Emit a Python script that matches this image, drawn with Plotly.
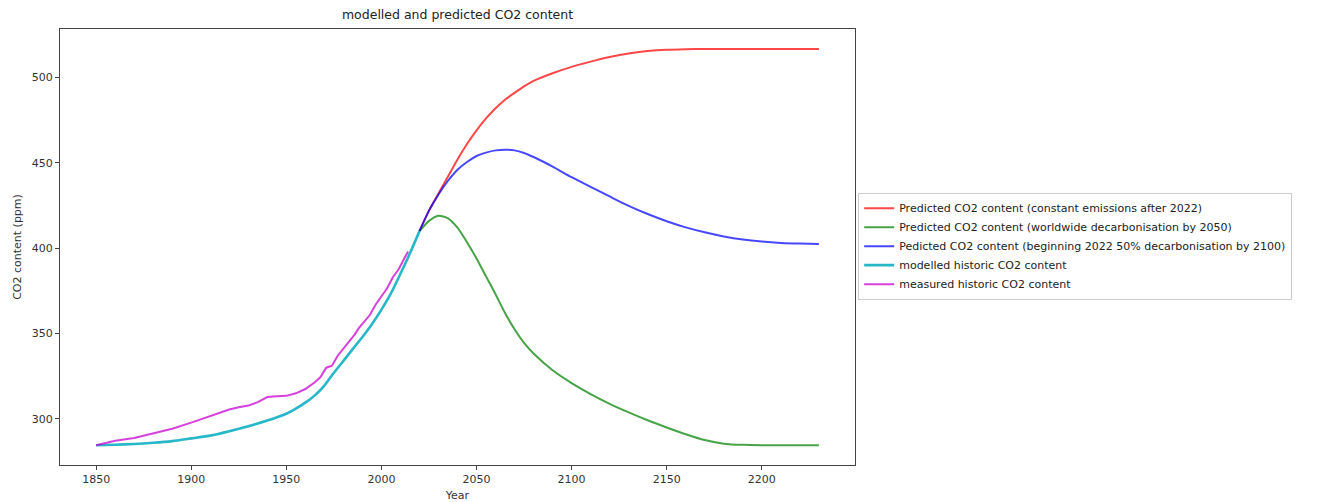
import plotly.graph_objects as go

# ---------------- data ----------------
hist_years = [1850, 1860, 1870, 1880, 1890, 1900, 1910, 1920, 1930, 1940, 1950,
              1955, 1960, 1965, 1970, 1975, 1980, 1985, 1990, 1995, 2000, 2005,
              2010, 2015, 2020]
modelled_hist = [284.6, 284.9, 285.3, 286.0, 287.0, 288.6, 290.2, 292.8, 295.7, 299.0, 303.0,
                 306.0, 309.5, 313.8, 319.5, 327.0, 334.0, 341.0, 348.0, 355.5, 364.0, 373.5,
                 385.0, 397.0, 410.0]

meas_years = [1850, 1860, 1870, 1880, 1890, 1900, 1910, 1920, 1925, 1930, 1935, 1940,
              1945, 1950, 1955, 1960, 1965, 1968, 1971, 1974, 1977, 1980, 1983, 1986,
              1988, 1991, 1994, 1997, 2000, 2003, 2006, 2009, 2012, 2014]
measured_hist = [284.6, 287.2, 288.8, 291.6, 294.2, 297.8, 301.6, 305.5, 306.8, 307.8, 309.8, 312.8,
                 313.3, 313.5, 315.0, 317.5, 321.5, 324.5, 330.0, 331.2, 337.0, 341.0, 345.0, 349.5,
                 353.0, 357.0, 361.0, 367.0, 371.5, 376.5, 383.0, 387.5, 394.0, 398.0]

pred_years = [2020, 2025, 2030, 2035, 2040, 2045, 2050, 2055, 2060, 2065, 2070, 2075,
              2080, 2090, 2100, 2110, 2120, 2130, 2140, 2150, 2160, 2170, 2180, 2190,
              2200, 2210, 2220, 2230]
pred_constant = [410.0, 422.0, 432.0, 442.0, 452.0, 461.0, 469.0, 476.0, 482.0, 487.0, 491.0, 494.8,
                 498.0, 502.5, 506.2, 509.3, 512.0, 514.0, 515.5, 516.3, 516.6, 516.7, 516.7, 516.7,
                 516.7, 516.7, 516.7, 516.7]
pred_2050 = [410.0, 416.0, 419.0, 417.5, 412.0, 403.5, 394.0, 383.5, 373.0, 362.0, 352.5, 344.5,
             338.3, 328.5, 321.0, 314.5, 308.8, 303.8, 299.2, 295.0, 291.0, 287.6, 285.5, 284.8,
             284.6, 284.6, 284.6, 284.6]
pred_50pct = [410.0, 422.0, 431.5, 439.5, 446.0, 450.5, 454.0, 456.0, 457.3, 457.7, 457.3, 455.8,
              453.4, 447.8, 441.6, 435.9, 430.3, 424.8, 420.0, 415.8, 412.2, 409.3, 406.9, 405.1,
              403.9, 403.1, 402.7, 402.5]

x_ticks = [1850, 1900, 1950, 2000, 2050, 2100, 2150, 2200]
y_ticks = [300, 350, 400, 450, 500]

# ---------------- figure ----------------
FONT = "DejaVu Sans"
fig = go.Figure()

smooth = dict(shape="spline", smoothing=0.6)

fig.add_trace(go.Scatter(x=pred_years, y=pred_constant, mode="lines",
                         name="Predicted CO2 content (constant emissions after 2022)",
                         line=dict(color="rgba(255,0,0,0.72)", width=2, **smooth)))
fig.add_trace(go.Scatter(x=pred_years, y=pred_2050, mode="lines",
                         name="Predicted CO2 content (worldwide decarbonisation by 2050)",
                         line=dict(color="rgba(0,128,0,0.72)", width=2, **smooth)))
fig.add_trace(go.Scatter(x=pred_years, y=pred_50pct, mode="lines",
                         name="Pedicted CO2 content (beginning 2022 50% decarbonisation by 2100)",
                         line=dict(color="rgba(0,0,255,0.72)", width=2, **smooth)))
fig.add_trace(go.Scatter(x=hist_years, y=modelled_hist, mode="lines",
                         name="modelled historic CO2 content",
                         line=dict(color="rgba(0,170,190,0.85)", width=2.6, **smooth)))
fig.add_trace(go.Scatter(x=meas_years, y=measured_hist, mode="lines",
                         name="measured historic CO2 content",
                         line=dict(color="rgba(200,0,210,0.75)", width=2)))

axis_common = dict(showline=True, linecolor="#444", linewidth=1, mirror=True,
                   ticks="outside", ticklen=4, tickcolor="#444", tickwidth=1,
                   showgrid=False, zeroline=False,
                   tickfont=dict(family=FONT, size=11, color="#333"))

fig.update_xaxes(range=[1831, 2249], tickvals=x_ticks,
                 title=dict(text="Year", font=dict(family=FONT, size=11, color="#333"), standoff=6),
                 **axis_common)
fig.update_yaxes(range=[273.0, 528.4], tickvals=y_ticks,
                 title=dict(text="CO2 content (ppm)", font=dict(family=FONT, size=11, color="#333"), standoff=7),
                 **axis_common)

# the page body adds an 8px offset, so the margins are shifted to compensate
fig.update_layout(
    width=1322, height=502,
    paper_bgcolor="white", plot_bgcolor="white",
    margin=dict(l=52, r=475, t=21, b=45, autoexpand=False),
    title=dict(text="modelled and predicted CO2 content", x=449.5 / 1322, xanchor="center",
               y=1 - 7 / 502, yanchor="middle",
               font=dict(family=FONT, size=12.5, color="#222")),
    legend=dict(x=1.004, xanchor="left", y=0.502, yanchor="middle",
                bordercolor="#ccc", borderwidth=1, bgcolor="white",
                font=dict(family=FONT, size=11, color="#222"),
                tracegroupgap=0, itemwidth=30,
                entrywidth=420, entrywidthmode="pixels"),
    showlegend=True,
)

fig.write_html("out.html")
